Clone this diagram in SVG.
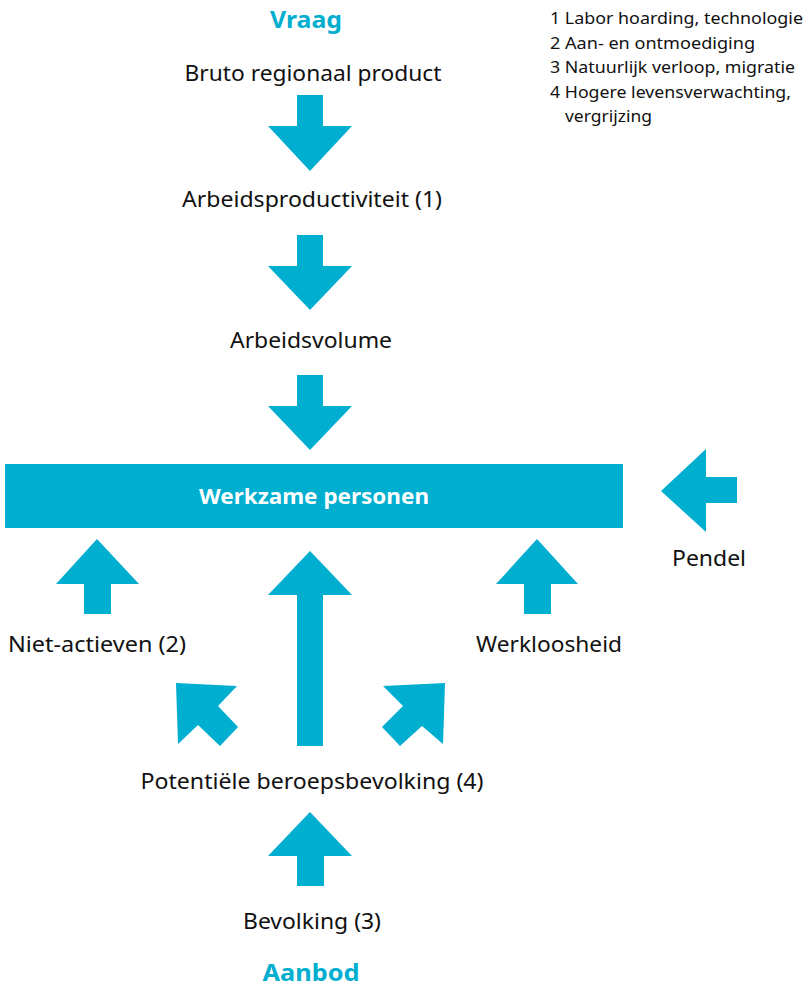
<svg xmlns="http://www.w3.org/2000/svg" width="806" height="987" viewBox="0 0 806 987">
<style>
.ar{fill:#00AED0;stroke:none}
.t{font-family:"Noto Sans",Lato,sans-serif;font-size:22.5px;fill:#111;text-anchor:middle}
.h{font-family:"Noto Sans",Lato,sans-serif;font-size:24px;font-weight:bold;fill:#00AED0;text-anchor:middle}
.lg{font-family:"Noto Sans",Lato,sans-serif;font-size:17px;fill:#111}
.w{font-family:"Noto Sans",Lato,sans-serif;font-size:22px;font-weight:bold;fill:#fff;text-anchor:middle}
</style>
<rect width="806" height="987" fill="#fff"/>
<g id="connectors">
<polygon class="ar" points="297,95 323,95 323,126 352,126 310,171 268,126 297,126"/>
<polygon class="ar" points="297,235 323,235 323,266 352,266 310,310 268,266 297,266"/>
<polygon class="ar" points="297,375 323,375 323,406 352,406 310,450 268,406 297,406"/>
<polygon class="ar" points="737,477 737,503 706,503 706,532 661,491 706,449 706,477"/>
<polygon class="ar" points="84,614 111,614 111,584 139,584 97,539 56,584 84,584"/>
<polygon class="ar" points="524,614 551,614 551,584 578,584 537,539 496,584 524,584"/>
<polygon class="ar" points="297,746 323,746 323,595 352,595 310,551 268,595 297,595"/>
<polygon class="ar" points="297,886 324,886 324,856 352,856 310,812 268,856 297,856"/>
<polygon class="ar" points="176,683 237,686 218,706 238,727 220,746 198,725 178,744"/>
<polygon class="ar" points="445,683 383,686 403,706 382,727 400,746 422,726 443,744"/>
</g>
<g id="vraag"><text class="h" x="306" y="28" textLength="72" lengthAdjust="spacingAndGlyphs">Vraag</text></g>
<g id="legend">
<text class="lg" x="550" y="24" textLength="253" lengthAdjust="spacingAndGlyphs">1 Labor hoarding, technologie</text>
<text class="lg" x="550" y="49" textLength="205" lengthAdjust="spacingAndGlyphs">2 Aan- en ontmoediging</text>
<text class="lg" x="550" y="73" textLength="245" lengthAdjust="spacingAndGlyphs">3 Natuurlijk verloop, migratie</text>
<text class="lg" x="550" y="98" textLength="241" lengthAdjust="spacingAndGlyphs">4 Hogere levensverwachting,</text>
<text class="lg" x="565" y="122" textLength="87" lengthAdjust="spacingAndGlyphs">vergrijzing</text>
</g>
<g id="brp"><text class="t" x="313" y="81" textLength="257" lengthAdjust="spacingAndGlyphs">Bruto regionaal product</text></g>
<g id="productiviteit"><text class="t" x="312" y="207" textLength="260" lengthAdjust="spacingAndGlyphs">Arbeidsproductiviteit (1)</text></g>
<g id="arbeidsvolume"><text class="t" x="311" y="348" textLength="162" lengthAdjust="spacingAndGlyphs">Arbeidsvolume</text></g>
<g id="werkzame"><rect x="5" y="464" width="618" height="64" fill="#00AED0"/><text class="w" x="314" y="504" textLength="230" lengthAdjust="spacingAndGlyphs">Werkzame personen</text></g>
<g id="pendel"><text class="t" x="709" y="566" textLength="74" lengthAdjust="spacingAndGlyphs">Pendel</text></g>
<g id="nietactieven"><text class="t" x="97" y="652" textLength="178" lengthAdjust="spacingAndGlyphs">Niet-actieven (2)</text></g>
<g id="werkloosheid"><text class="t" x="549" y="652" textLength="146" lengthAdjust="spacingAndGlyphs">Werkloosheid</text></g>
<g id="potentiele"><text class="t" x="312" y="789" textLength="343" lengthAdjust="spacingAndGlyphs">Potentiële beroepsbevolking (4)</text></g>
<g id="bevolking"><text class="t" x="312" y="929" textLength="138" lengthAdjust="spacingAndGlyphs">Bevolking (3)</text></g>
<g id="aanbod"><text class="h" x="311" y="981" textLength="97" lengthAdjust="spacingAndGlyphs">Aanbod</text></g>
</svg>
